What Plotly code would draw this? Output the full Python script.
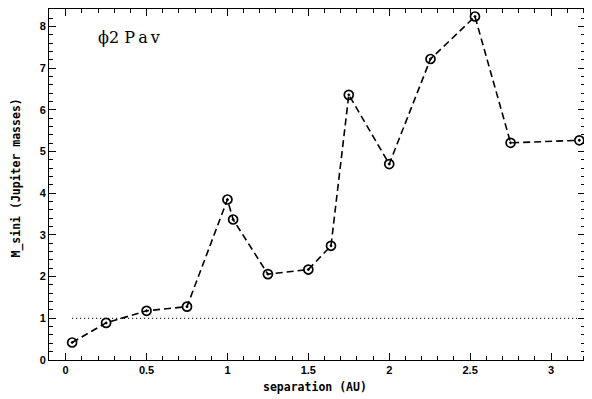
import plotly.graph_objects as go

separation_au = [0.04, 0.25, 0.50, 0.75, 1.00, 1.035, 1.25, 1.50, 1.64, 1.75, 2.00, 2.255, 2.53, 2.75, 3.175]
m_sini = [0.42, 0.89, 1.18, 1.28, 3.85, 3.37, 2.06, 2.17, 2.74, 6.36, 4.70, 7.22, 8.24, 5.21, 5.27]
ref_line_x = [0.04, 3.16]
ref_line_y = [1.0, 1.0]
x_ticks = [0, 0.5, 1, 1.5, 2, 2.5, 3]
x_tick_labels = ["0", "0.5", "1", "1.5", "2", "2.5", "3"]
y_ticks = [0, 1, 2, 3, 4, 5, 6, 7, 8]
y_tick_labels = ["0", "1", "2", "3", "4", "5", "6", "7", "8"]

# page body has an 8px default margin; figure placed at (8,8)
OFF = 8
W, H = 592 - OFF, 399 - OFF
L, R, T, B = 49 - OFF, 7, 9 - OFF, 39
PW, PH = W - L - R, H - T - B


def px_to_paper(px, py):
    fx, fy = px - OFF, py - OFF
    return (fx - L) / PW, (H - B - fy) / PH


fig = go.Figure()
fig.add_trace(go.Scatter(
    x=ref_line_x, y=ref_line_y, mode="lines",
    line=dict(color="black", width=1.2, dash="1px,3px"),
    showlegend=False, hoverinfo="skip"))
fig.add_trace(go.Scatter(
    x=separation_au, y=m_sini, mode="lines+markers",
    line=dict(color="black", width=1.6, dash="7px,4px"),
    marker=dict(symbol="circle-dot", size=9, color="rgba(0,0,0,0)",
                line=dict(color="black", width=1.7)),
    showlegend=False))

tickfont = dict(family="Liberation Sans", size=11, color="black", weight="bold")
common = dict(showgrid=False, zeroline=False, showline=True, linecolor="black",
              linewidth=1, mirror="allticks", ticks="inside", ticklen=7,
              tickcolor="black", tickwidth=1, tickfont=tickfont, automargin=False)

fig.update_xaxes(range=[-0.103, 3.21], tickvals=x_ticks, ticktext=x_tick_labels,
                 minor=dict(dtick=0.1, tick0=0, ticks="inside", ticklen=4,
                            tickcolor="black", tickwidth=1),
                 **common)
fig.update_yaxes(range=[0, 8.42], tickvals=y_ticks, ticktext=y_tick_labels,
                 minor=dict(dtick=0.2, tick0=0, ticks="inside", ticklen=4,
                            tickcolor="black", tickwidth=1),
                 **common)

title_font = dict(family="DejaVu Sans Mono", size=11.5, color="black", weight="bold")
ax_, ay_ = px_to_paper(315, 387)
fig.add_annotation(text="separation (AU)", xref="paper", yref="paper", x=ax_, y=ay_,
                   xanchor="center", yanchor="middle", showarrow=False, font=title_font,
                   borderpad=0)
bx_, by_ = px_to_paper(15.5, 178)
fig.add_annotation(text="M_sini (Jupiter masses)", xref="paper", yref="paper", x=bx_, y=by_,
                   xanchor="center", yanchor="middle", showarrow=False,
                   textangle=-90, font=title_font, borderpad=0)

cx_, cy_ = px_to_paper(96, 37)
fig.add_annotation(text="ϕ2 P\u2009a\u2009v", xref="paper", yref="paper", x=cx_, y=cy_,
                   xanchor="left", yanchor="middle", showarrow=False,
                   font=dict(family="DejaVu Serif", size=16, color="black"))

fig.update_layout(width=W, height=H, margin=dict(l=L, r=R, t=T, b=B),
                  paper_bgcolor="white", plot_bgcolor="white")
fig.write_html("out.html")
